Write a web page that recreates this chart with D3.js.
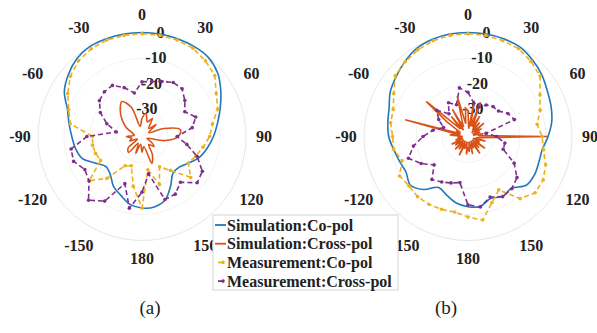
<!DOCTYPE html>
<html>
<head>
<meta charset="utf-8">
<script src="https://cdn.jsdelivr.net/npm/d3@7"></script>
<style>
  body { margin: 0; background: #fff; }
</style>
</head>
<body>
<div id="chart"></div>
<script>
// ── data (angles in degrees, clockwise from top; values in dB)
const angles10 = [0,10,20,30,40,50,60,70,80,90,100,110,120,130,140,150,160,170,180,
                  -170,-160,-150,-140,-130,-120,-110,-100,-90,-80,-70,-60,-50,-40,-30,-20,-10];
const angles5 = [0,5,10,15,20,25,30,35,40,45,50,55,60,65,70,75,80,85,90,95,100,105,110,115,120,
                 125,130,135,140,145,150,155,160,165,170,175,180,-175,-170,-165,-160,-155,-150,
                 -145,-140,-135,-130,-125,-120,-115,-110,-105,-100,-95,-90,-85,-80,-75,-70,-65,
                 -60,-55,-50,-45,-40,-35,-30,-25,-20,-15,-10,-5];

const thetaTicks = [0, 30, 60, 90, 120, 150, 180, -150, -120, -90, -60, -30];
const rTicks = [0, -10, -20, -30];

// (a)
const simCoA    = [0,0,0,0,-0.3,-2,-5,-8,-10.5,-12.5,-14.5,-16.5,-19.5,-21.5,-21.5,-18,-14,-12.5,-12.5,
                   -13.5,-16,-18,-21,-22,-19.5,-15.5,-14,-13,-11.5,-9.5,-5.5,-3,-1,0,0,0];
const simCrossA = [-33,-31,-34,-32,-36,-33,-37,-31,-25,-26,-31,-38,-36,-34,-36,-32,-29,-36,-34,
                   -37,-33,-37,-32,-33,-38,-35,-36,-34,-37,-36,-33,-30,-27,-24.5,-28,-36];
const measCoA   = [-0.5,-0.5,-0.5,-0.8,-2,-3.5,-7,-9,-12.5,-14,-16.2,-18,-19.5,-15.5,-23,-26.5,-20.4,-27,-12.5,
                   -20.6,-28,-27,-19,-13.5,-21.6,-21,-20.7,-21,-12,-10,-7,-4,-2,-1,-0.5,-0.5];
const measCrossA = [-19,-18.5,-17.5,-16,-16,-18.5,-21,-18,-20.4,-26.5,-22.5,-17.4,-13.2,-12.3,-17,-14.4,-14.2,-25.4,-18.6,
                    -12,-20.7,-11.3,-8,-13.4,-14.6,-12,-12.3,-18.8,-30,-25.6,-21.5,-18.6,-17.5,-17.3,-20,-23];

// (b)
const simCoB    = [0,0,0,-0.2,-1.5,-3,-4.8,-6,-7.3,-9.2,-11,-11,-10.5,-10.8,-14,-13.4,-14.6,-12.7,-13,
                   -14,-16,-17.4,-13.4,-11,-12.5,-12,-11,-9.5,-8.7,-7.7,-5.5,-4,-2.3,-0.8,-0.2,0];
const simCrossB = [-30,-37,-26,-36,-26,-36,-31,-37,-33,-38,-32,-37,-34,-38,-35,-38,-34,-36,-9.3,-35,-37,-33,-38,-35,-37,
                   -32,-38,-34,-37,-32,-38,-35,-37,-33,-38,-34,-36,-33,-38,-35,-37,-32,-38,
                   -34,-37,-33,-38,-34,-37,-33,-38,-35,-37,-36,-38,-33,-37,-15,-37,-35,
                   -36,-30,-19,-36,-30,-37,-28,-36,-33,-24,-35,-29];
const measCoB   = [-0.5,-0.5,-0.8,-1,-2.3,-3.8,-8,-10.5,-13,-11.5,-10.5,-8.2,-6.6,-6.3,-8.8,-16.3,-13,-7.4,-9,
                   -10.5,-10.2,-9.9,-9.8,-10.4,-9.6,-13,-11,-11,-9.8,-9.4,-7,-3.5,-2.5,-1.5,-0.8,-0.5];
const measCrossB = [-23,-27,-28,-26,-25,-24.7,-22.3,-21,-33,-29,-25.6,-25.6,-19.5,-15.4,-13.8,-13.3,-15.2,-12.5,-13.7,
                    -22,-21,-19.8,-18.4,-23,-19.2,-15.6,-18.7,-22.7,-26.3,-30,-27,-24.3,-28.6,-25,-27,-21];

const seriesNames = ['Simulation:Co-pol', 'Simulation:Cross-pol', 'Measurement:Co-pol', 'Measurement:Cross-pol'];
const colors = ['#1f77bd', '#d95319', '#edb120', '#7e2f8e'];

// ── layout
const W = 597, H = 333;
const R = 104;
const FONT = "'Liberation Serif', 'Times New Roman', Times, 'DejaVu Serif', serif";
const rScale = d3.scaleLinear().domain([-40, 0]).range([0, R]).clamp(true);
const rad = deg => deg * Math.PI / 180;

const svg = d3.select('#chart').append('svg')
  .attr('width', W).attr('height', H);

function zip(angles, vals) {
  return angles.map((a, i) => ({ a, v: vals[i] }));
}

function drawPolar(cx, cy, series, caption, capX) {
  const g = svg.append('g').attr('transform', `translate(${cx},${cy})`);

  // grid circles
  g.append('g').selectAll('circle')
    .data(rTicks)
    .enter().append('circle')
      .attr('r', d => rScale(d))
      .attr('fill', 'none')
      .attr('stroke', d => d === 0 ? '#e6e6e6' : '#f3f3f3')
      .attr('stroke-width', 1);

  // theta labels
  g.append('g').selectAll('text')
    .data(thetaTicks)
    .enter().append('text')
      .attr('x', d => (122 + 5 * Math.abs(Math.sin(rad(2 * d)))) * Math.sin(rad(d)))
      .attr('y', d => -(122 + 5 * Math.abs(Math.sin(rad(2 * d)))) * Math.cos(rad(d)))
      .attr('text-anchor', 'middle')
      .attr('dominant-baseline', 'central')
      .attr('font-family', FONT)
      .attr('font-size', '16px')
      .attr('font-weight', 'bold')
      .attr('fill', '#222')
      .text(d => d);

  // radial labels
  g.append('g').selectAll('text')
    .data(rTicks)
    .enter().append('text')
      .attr('x', d => (rScale(d) + 2) * Math.sin(rad(10)))
      .attr('y', d => -(rScale(d) + 2) * Math.cos(rad(10)))
      .attr('text-anchor', 'middle')
      .attr('dominant-baseline', 'central')
      .attr('font-family', FONT)
      .attr('font-size', '16px')
      .attr('font-weight', 'bold')
      .attr('fill', '#222')
      .text(d => d);

  series.forEach(s => {
    const line = d3.lineRadial()
      .angle(d => rad(d.a))
      .radius(d => rScale(d.v))
      .curve(s.curve);

    g.append('path')
      .datum(s.data)
      .attr('d', line)
      .attr('fill', 'none')
      .attr('stroke', s.color)
      .attr('stroke-width', 1.6)
      .attr('stroke-dasharray', s.dashed ? '5,3' : null);

    if (s.markers) {
      g.append('g').selectAll('circle')
        .data(s.data)
        .enter().append('circle')
          .attr('cx', d => d3.pointRadial(rad(d.a), rScale(d.v))[0])
          .attr('cy', d => d3.pointRadial(rad(d.a), rScale(d.v))[1])
          .attr('r', 1.8)
          .attr('fill', s.color);
    }
  });

  svg.append('text')
    .attr('x', capX).attr('y', 314)
    .attr('text-anchor', 'middle')
    .attr('font-family', FONT)
    .attr('font-size', '19px')
    .attr('fill', '#222')
    .text(caption);
}

drawPolar(142, 136.5, [
  { data: zip(angles10, simCoA),     color: colors[0], curve: d3.curveCatmullRomClosed },
  { data: zip(angles10, simCrossA),  color: colors[1], curve: d3.curveCatmullRomClosed },
  { data: zip(angles10, measCoA),    color: colors[2], curve: d3.curveLinearClosed, dashed: true, markers: true },
  { data: zip(angles10, measCrossA), color: colors[3], curve: d3.curveLinearClosed, dashed: true, markers: true }
], '(a)', 150);

drawPolar(468, 136.5, [
  { data: zip(angles10, simCoB),     color: colors[0], curve: d3.curveCatmullRomClosed },
  { data: zip(angles5,  simCrossB),  color: colors[1], curve: d3.curveLinearClosed },
  { data: zip(angles10, measCoB),    color: colors[2], curve: d3.curveLinearClosed, dashed: true, markers: true },
  { data: zip(angles10, measCrossB), color: colors[3], curve: d3.curveLinearClosed, dashed: true, markers: true }
], '(b)', 446);

// ── legend
const legend = svg.append('g').attr('transform', 'translate(213,215)');
legend.append('rect')
  .attr('width', 185).attr('height', 75)
  .attr('fill', '#fff')
  .attr('stroke', '#d4d4d4');

seriesNames.forEach((name, i) => {
  const row = legend.append('g').attr('transform', `translate(0,${10 + i * 18.7})`);
  if (i < 2) {
    row.append('line')
      .attr('x1', 2).attr('x2', 13)
      .attr('stroke', colors[i]).attr('stroke-width', 1.8);
  } else {
    row.append('line')
      .attr('x1', 5).attr('x2', 10)
      .attr('stroke', colors[i]).attr('stroke-width', 1.8);
    row.append('circle')
      .attr('cx', 10).attr('r', 1.8).attr('fill', colors[i]);
  }
  row.append('text')
    .attr('x', 14).attr('y', 0)
    .attr('dominant-baseline', 'central')
    .attr('font-family', FONT)
    .attr('font-size', '16px')
    .attr('font-weight', 'bold')
    .attr('fill', '#222')
    .text(name);
});
</script>
</body>
</html>
